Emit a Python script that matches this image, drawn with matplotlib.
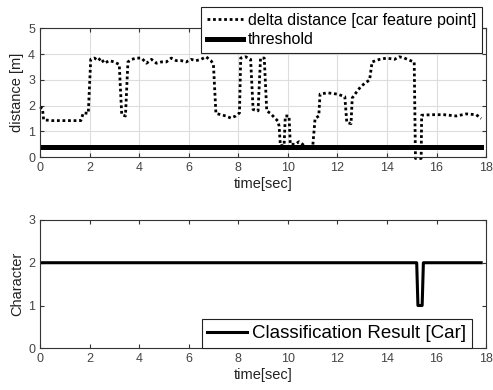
import numpy as np
import matplotlib.pyplot as plt

plt.rcParams['font.family'] = ['Liberation Sans', 'DejaVu Sans']

# --------------------- data ---------------------
t_delta = [0.0, 0.1, 0.15, 0.5, 1.0, 1.65, 1.75, 1.95, 2.05, 2.2, 2.35, 2.45, 2.6, 2.8,
           3.0, 3.2, 3.3, 3.45, 3.55, 3.7, 3.9, 4.1, 4.3, 4.5, 4.7, 4.9, 5.1, 5.3, 5.5,
           5.7, 5.9, 6.1, 6.3, 6.5, 6.7, 6.9, 7.0, 7.1, 7.3, 7.5, 7.7, 7.9, 8.05, 8.1,
           8.3, 8.5, 8.6, 8.8, 8.9, 9.05, 9.15, 9.3, 9.45, 9.6, 9.65, 9.7, 9.85, 9.9,
           10.05, 10.1, 10.3, 10.45, 10.6, 10.75, 11.0, 11.1, 11.25, 11.3, 11.6, 12.0,
           12.3, 12.38, 12.55, 12.6, 12.75, 12.95, 13.15, 13.3, 13.4, 13.7, 14.0, 14.3,
           14.5, 14.7, 14.95, 15.1, 15.15, 15.38, 15.4, 15.8, 16.3, 16.8, 17.2, 17.6, 17.8]
d_delta = [1.95, 1.9, 1.45, 1.42, 1.42, 1.42, 1.72, 1.7, 3.8, 3.85, 3.75, 3.85, 3.65, 3.75,
           3.7, 3.6, 1.65, 1.6, 3.7, 3.8, 3.85, 3.85, 3.65, 3.8, 3.65, 3.7, 3.7, 3.85, 3.75,
           3.75, 3.7, 3.8, 3.75, 3.8, 3.9, 3.75, 3.6, 1.7, 1.65, 1.6, 1.52, 1.6, 1.72, 3.85,
           3.9, 3.8, 1.85, 1.8, 3.85, 3.85, 1.8, 1.7, 1.55, 1.4, 1.2, 0.45, 0.45, 1.6,
           1.6, 0.5, 0.5, 0.6, 0.5, 0.35, 0.35, 1.5, 1.6, 2.45, 2.5, 2.45,
           2.35, 1.35, 1.3, 2.3, 2.5, 2.75, 2.9, 3.0, 3.7, 3.8, 3.85, 3.8,
           3.9, 3.85, 3.75, 3.7, -0.05, -0.05, 1.63, 1.65, 1.65, 1.6, 1.68, 1.65, 1.5]

t_thresh = [0.0, 17.8]
d_thresh = [0.4, 0.4]

t_class = [0.0, 15.2, 15.25, 15.42, 15.47, 17.8]
v_class = [2, 2, 1, 1, 2, 2]

x_ticks = np.arange(0, 19, 2)

# --------------------- figure ---------------------
fig = plt.figure(figsize=(4.93, 3.90), dpi=100)
ax1 = fig.add_axes([0.081, 0.597, 0.905, 0.330])
ax2 = fig.add_axes([0.081, 0.107, 0.905, 0.329])

spine_col = '#333333'
tick_col = '#444444'

for ax in (ax1, ax2):
    ax.set_xlim(0, 18)
    ax.set_xticks(x_ticks)
    ax.tick_params(direction='in', top=True, right=True, length=3, width=0.8,
                   labelsize=9, colors=spine_col, labelcolor=tick_col)
    for s in ax.spines.values():
        s.set_color(spine_col)
        s.set_linewidth(0.8)

# top
ax1.plot(t_delta, d_delta, color='black', linestyle=(0, (1, 1)), linewidth=2,
         clip_on=False, label='delta distance [car feature point]')
ax1.plot(t_thresh, d_thresh, color='black', linewidth=3.6, label='threshold')
ax1.set_ylim(0, 5)
ax1.set_yticks(range(0, 6))
ax1.grid(True, color='#dddddd', linewidth=0.8)
ax1.set_axisbelow(True)
ax1.set_ylabel('distance [m]', fontsize=10.5, color='#222222', labelpad=3)
ax1.set_xlabel('time[sec]', fontsize=10.5, color='#222222', labelpad=2)
leg1 = ax1.legend(loc='upper right', bbox_to_anchor=(482 / 493, 1 - 7 / 390),
                  bbox_transform=fig.transFigure, borderaxespad=0, fontsize=11.5,
                  fancybox=False, edgecolor='#222222', framealpha=1,
                  handlelength=2.3, handletextpad=0.3, labelspacing=0.3, borderpad=0.35)
leg1.get_frame().set_linewidth(0.8)

# bottom
ax2.plot(t_class, v_class, color='black', linewidth=2.2, label='Classification Result [Car]')
ax2.set_ylim(0, 3)
ax2.set_yticks(range(0, 4))
ax2.set_ylabel('Character', fontsize=10.5, color='#222222', labelpad=3)
ax2.set_xlabel('time[sec]', fontsize=10.5, color='#222222', labelpad=2)
leg2 = ax2.legend(loc='lower right', bbox_to_anchor=(472 / 493, 1 - 347.7 / 390),
                  bbox_transform=fig.transFigure, borderaxespad=0, fontsize=13.5,
                  fancybox=False, edgecolor='#222222', framealpha=1,
                  handlelength=2.1, handletextpad=0.3, borderpad=0.3)
leg2.get_frame().set_linewidth(0.8)

fig.savefig('out.png', dpi=100)
